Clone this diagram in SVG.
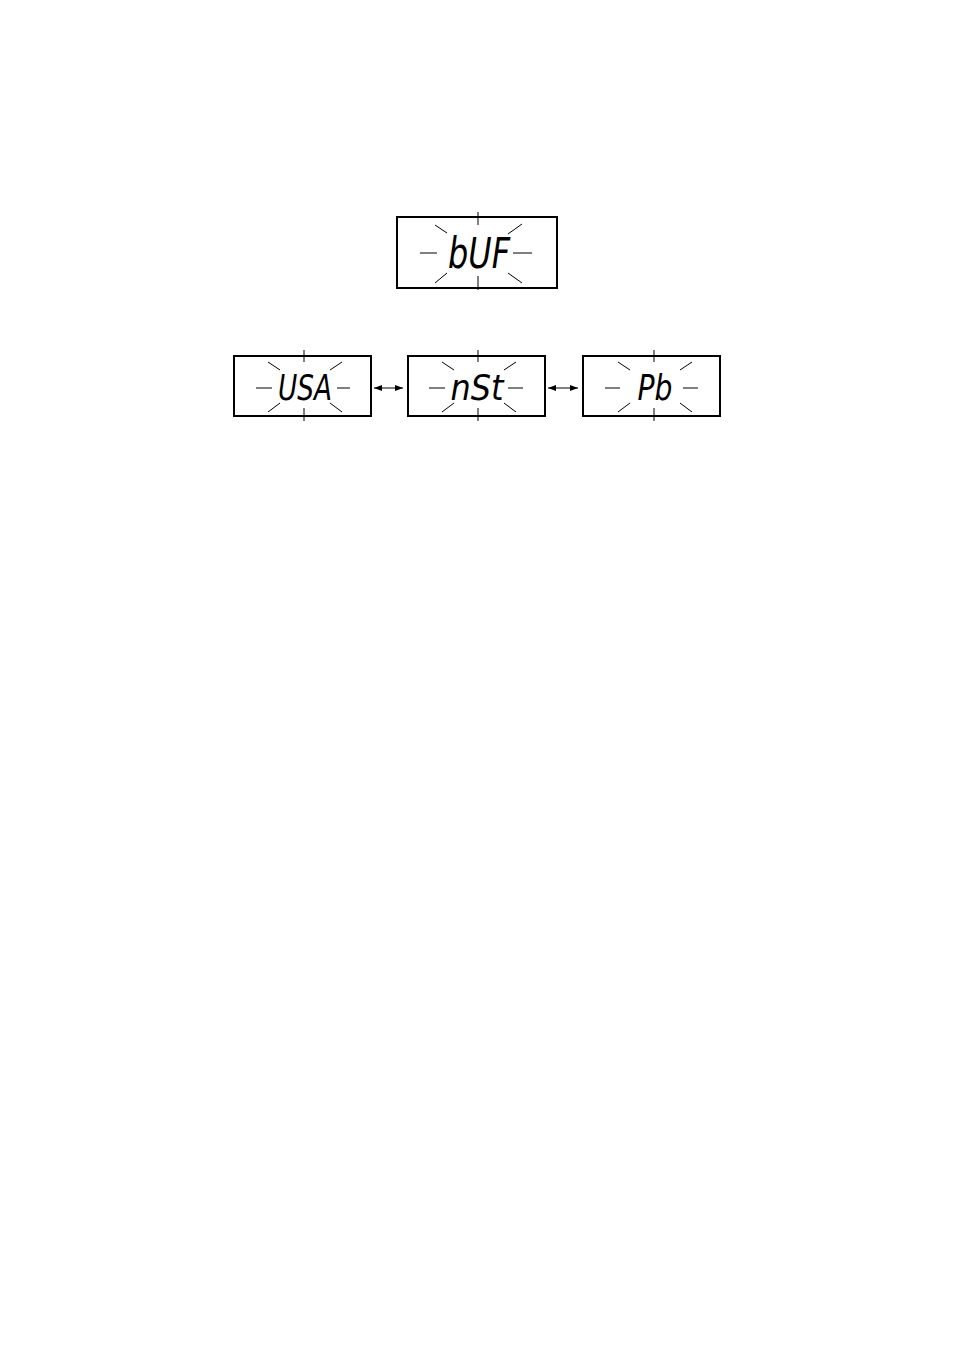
<svg xmlns="http://www.w3.org/2000/svg" width="954" height="1351" viewBox="0 0 954 1351">
<style>
.box{fill:#fff;stroke:#000;stroke-width:2}
.ray{stroke:#000;stroke-width:1;fill:none}
.lcd{font-family:"DejaVu Sans","Liberation Sans",sans-serif;font-style:italic;font-weight:normal;fill:#000}
.con{stroke:#000;stroke-width:1;fill:none}
</style>
<defs>
<marker id="ah" viewBox="0 0 8 6" refX="8" refY="3" markerWidth="8" markerHeight="6" orient="auto-start-reverse" markerUnits="userSpaceOnUse">
<path d="M0,0 L8,3 L0,6 Z" fill="#000"/>
</marker>
</defs>
<rect width="954" height="1351" fill="#fff"/>
<g id="node-buf">
<rect class="box" x="397" y="217" width="160" height="71"/>
<path class="ray" d="M478,212 V225 M478,276 V290 M420,253 H437 M513,253 H532 M435,225 L447,233 M522,224 L508,234 M435,283 L447,273 M508,273 L522,283"/>
<text class="lcd" x="479" y="268" font-size="42" text-anchor="middle" textLength="62" lengthAdjust="spacingAndGlyphs">bUF</text>
</g>
<g id="node-usa">
<rect class="box" x="234" y="356" width="137" height="60"/>
<path class="ray" d="M304,350 V362 M304,408 V421 M256,388 H272 M337,388 H350 M268,362 L280,370 M342,362 L330,370 M268,412 L280,403 M330,403 L342,412"/>
<text class="lcd" x="305" y="400" font-size="36" text-anchor="middle" textLength="54" lengthAdjust="spacingAndGlyphs">USA</text>
</g>
<g id="node-nst">
<rect class="box" x="408" y="356" width="137" height="60"/>
<path class="ray" d="M478,350 V362 M478,408 V421 M429,388 H445 M508,388 H523 M442,362 L454,370 M516,362 L504,370 M442,412 L454,403 M504,403 L516,412"/>
<text class="lcd" x="477" y="400" font-size="36" text-anchor="middle" textLength="53" lengthAdjust="spacingAndGlyphs">nSt</text>
</g>
<g id="node-pb">
<rect class="box" x="583" y="356" width="137" height="60"/>
<path class="ray" d="M654,350 V362 M654,408 V421 M605,388 H620 M683,388 H698 M618,362 L630,370 M692,362 L680,370 M618,412 L630,403 M680,403 L692,412"/>
<text class="lcd" x="655" y="400" font-size="36" text-anchor="middle" textLength="35" lengthAdjust="spacingAndGlyphs">Pb</text>
</g>
<g id="connectors">
<line class="con" x1="374" y1="388" x2="403" y2="388" marker-start="url(#ah)" marker-end="url(#ah)"/>
<line class="con" x1="548" y1="388" x2="578" y2="388" marker-start="url(#ah)" marker-end="url(#ah)"/>
</g>
</svg>
